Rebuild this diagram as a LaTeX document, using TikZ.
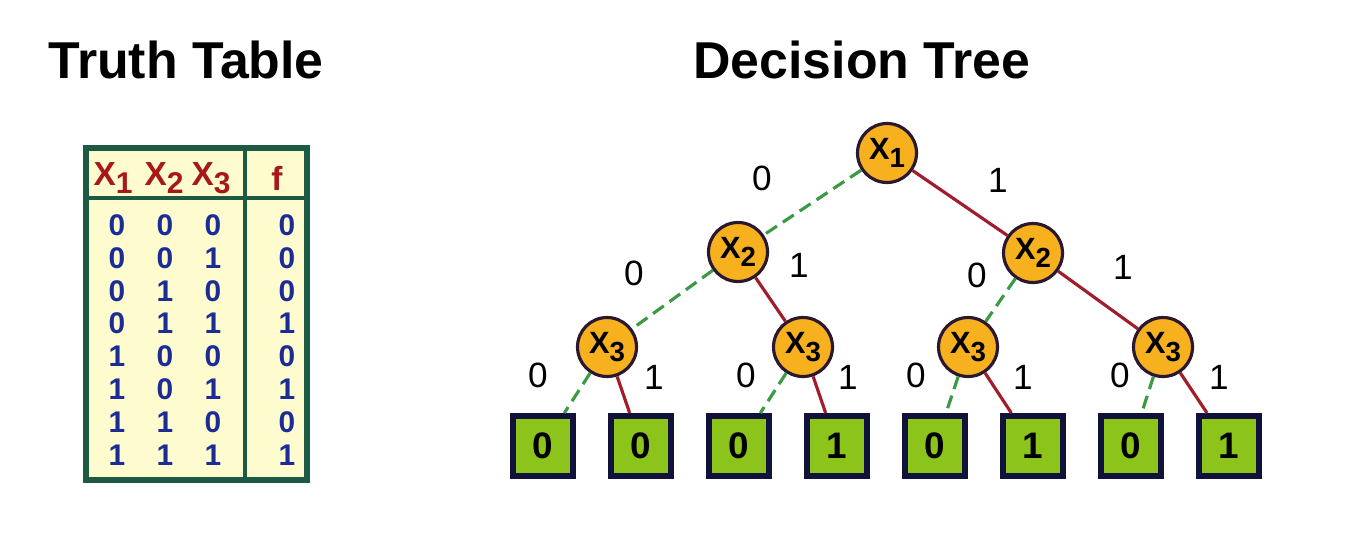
\documentclass[tikz,border=0pt]{standalone}
\usepackage{fontspec}
\setmainfont{Liberation Sans}
\usepackage{graphicx}
\definecolor{tabfill}{HTML}{FEFCCF}
\definecolor{tabline}{HTML}{1C5A44}
\definecolor{headred}{HTML}{A81818}
\definecolor{cellblue}{HTML}{1C2C96}
\definecolor{nodefill}{HTML}{F7B01E}
\definecolor{nodeline}{HTML}{2A1830}
\definecolor{leaffill}{HTML}{8CC41C}
\definecolor{leafline}{HTML}{10123C}
\definecolor{lowedge}{HTML}{3C9A44}
\definecolor{highedge}{HTML}{A01E2C}
\newcommand\lowsub[1]{\raisebox{-0.45ex}{\scalebox{0.9}{#1}}}

\begin{document}
\begin{tikzpicture}[x=0.02cm,y=-0.02cm,
    title/.style={font=\fontsize{29.5}{32}\selectfont\bfseries},
    head/.style={text=headred,font=\fontsize{19}{20}\selectfont\bfseries},
    cell/.style={text=cellblue,font=\fontsize{17}{18}\selectfont\bfseries},
    var/.style={circle,draw=nodeline,fill=nodefill,line width=1.8pt,minimum size=1.18cm,
        inner sep=0pt,font=\fontsize{17.5}{18}\selectfont\bfseries},
    leaf/.style={draw=leafline,fill=leaffill,line width=3.4pt,minimum size=1.2cm,
        inner sep=0pt,font=\fontsize{21}{22}\selectfont\bfseries},
    lo/.style={draw=lowedge,line width=1.8pt,dash pattern=on 7.5pt off 4pt},
    hi/.style={draw=highedge,line width=1.8pt},
    lbl/.style={font=\fontsize{20}{22}\selectfont}]
  \useasboundingbox (0,0) rectangle (1358,544);

  % titles
  \node[title] (ttab) at (186,60) {Truth Table};
  \node[title] (ttree) at (862,60) {Decision Tree};

  % truth table
  \filldraw[fill=tabfill,draw=tabline,line width=3.4pt] (86,148) rectangle (307,480);
  \draw[tabline,line width=1.8pt] (86,198) -- (307,198);
  \draw[tabline,line width=1.8pt] (245,148) -- (245,480);
  \node[head] (h1) at (113,178) {X\lowsub{1}};
  \node[head] (h2) at (164,178) {X\lowsub{2}};
  \node[head] (h3) at (211,178) {X\lowsub{3}};
  \node[head] (hf) at (277,178) {f};
  \foreach \a/\b/\c/\f [count=\i] in {0/0/0/0,0/0/1/0,0/1/0/0,0/1/1/1,1/0/0/0,1/0/1/1,1/1/0/0,1/1/1/1}{
    \node[cell] (a\i) at (117,{225+(\i-1)*32.9}) {\a};
    \node[cell] (b\i) at (165,{225+(\i-1)*32.9}) {\b};
    \node[cell] (c\i) at (213,{225+(\i-1)*32.9}) {\c};
    \node[cell] (f\i) at (287,{225+(\i-1)*32.9}) {\f};
  }

  % decision tree
  \node[var] (r) at (887,153) {X\lowsub{1}};
  \node[var] (a) at (738,252) {X\lowsub{2}};
  \node[var] (b) at (1033,253) {X\lowsub{2}};
  \node[var] (aa) at (607,347) {X\lowsub{3}};
  \node[var] (ab) at (803,347) {X\lowsub{3}};
  \node[var] (ba) at (968,347) {X\lowsub{3}};
  \node[var] (bb) at (1163,347) {X\lowsub{3}};
  \foreach \v [count=\i] in {0,0,0,1,0,1,0,1}
    \node[leaf] (l\i) at ({543+(\i-1)*98},446) {\v};

  \draw[lo] (r) -- (a);
  \draw[hi] (r) -- (b);
  \draw[lo] (a) -- (aa);
  \draw[hi] (a) -- (ab);
  \draw[lo] (b) -- (ba);
  \draw[hi] (b) -- (bb);
  \draw[lo] (aa) -- (l1);
  \draw[hi] (aa) -- (l2);
  \draw[lo] (ab) -- (l3);
  \draw[hi] (ab) -- (l4);
  \draw[lo] (ba) -- (l5);
  \draw[hi] (ba) -- (l6);
  \draw[lo] (bb) -- (l7);
  \draw[hi] (bb) -- (l8);

  % edge labels
  \node[lbl] (e0) at (762,178) {0};
  \node[lbl] (e1) at (998,180) {1};
  \node[lbl] (ea0) at (634,273) {0};
  \node[lbl] (ea1) at (799,265) {1};
  \node[lbl] (eb0) at (977,275) {0};
  \node[lbl] (eb1) at (1123,267) {1};
  \node[lbl] (eaa0) at (538,375) {0};
  \node[lbl] (eaa1) at (654,377) {1};
  \node[lbl] (eab0) at (746,375) {0};
  \node[lbl] (eab1) at (848,377) {1};
  \node[lbl] (eba0) at (916,375) {0};
  \node[lbl] (eba1) at (1023,377) {1};
  \node[lbl] (ebb0) at (1120,375) {0};
  \node[lbl] (ebb1) at (1219,377) {1};
\end{tikzpicture}
\end{document}
